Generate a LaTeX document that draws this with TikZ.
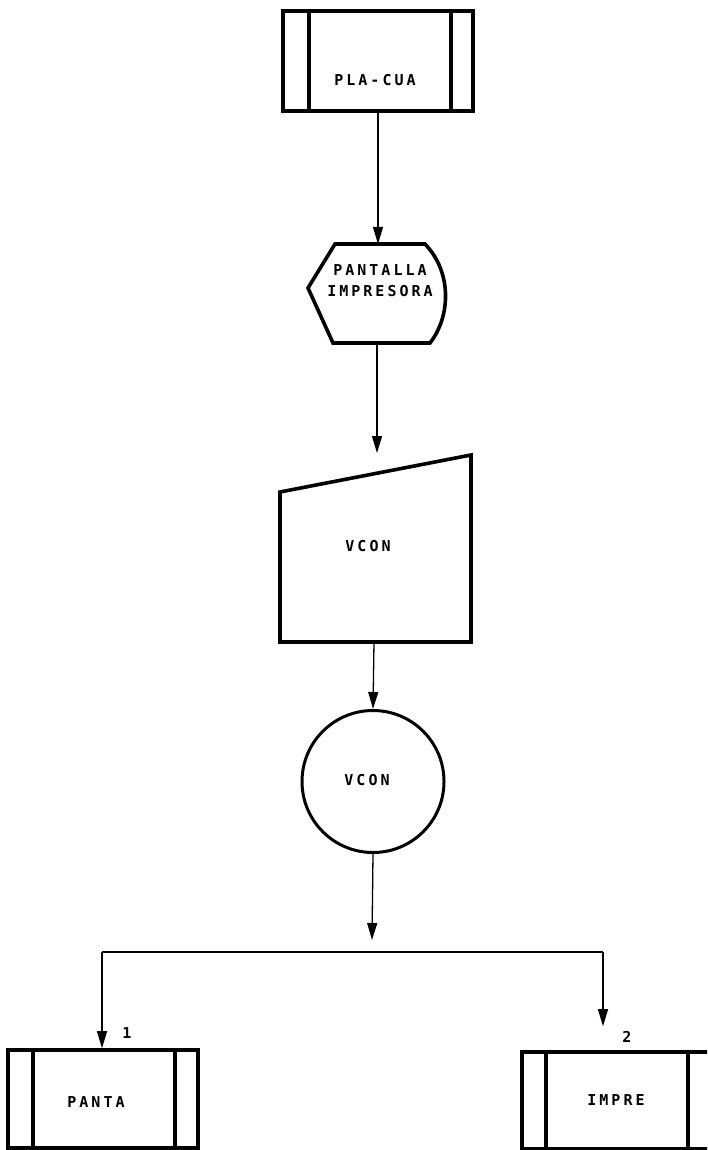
\documentclass[tikz,border=0pt]{standalone}
\usepackage{fontspec}
\newfontfamily\dotfont{DejaVu Sans Mono}[LetterSpace=20]
\usetikzlibrary{arrows.meta}
\begin{document}
\begin{tikzpicture}[x=1pt,y=-1pt,
  shapeline/.style={line width=3.6pt, line join=miter},
  box/.style={draw, shapeline, minimum width=190pt, minimum height=98pt, inner sep=0pt},
  lbl/.style={font=\dotfont\bfseries\fontsize{15}{21}\selectfont, inner sep=0pt, align=center},
  conn/.style={line width=1.3pt, -{Triangle[width=10pt,length=17pt]}},
  wire/.style={line width=1.3pt}
]
\useasboundingbox (0,0) rectangle (707,1150);
\clip (0,0) rectangle (707,1150);
% top subprocess box
\node[box, minimum height=100pt] (plc) at (378,61) {};
\draw[shapeline] ([xshift=28pt]plc.north west) -- ([xshift=28pt]plc.south west);
\draw[shapeline] ([xshift=-24pt]plc.north east) -- ([xshift=-24pt]plc.south east);
\node[lbl] (plct) at (375,80) {PLA-CUA};
% display shape
\coordinate (hexN) at (378,244);
\coordinate (hexS) at (377,343);
\draw[shapeline] (335,244) -- (425,244) .. controls (452,272) and (451,316) .. (430,343) -- (333,343) -- (308,288) -- cycle;
\node[lbl] (hext) at (380,281) {PANTALLA\\IMPRESORA};
% manual input trapezoid
\draw[shapeline] (280,492) -- (471,455) -- (471,642) -- (280,642) -- cycle;
\coordinate (trapIn) at (377,453);
\coordinate (trapS) at (374,642);
\node[lbl] (trt) at (368,546) {VCON};
% connector circle
\node[draw, circle, line width=3pt, minimum size=142pt, inner sep=0pt] (cir) at (373,781.5) {};
\node[lbl] (cirt) at (367,780) {VCON};
% connectors
\draw[conn] (plc.south) -- (hexN);
\draw[conn] (hexS) -- (trapIn);
\draw[conn] (trapS) -- (cir.north);
\coordinate (split) at (372,940);
\draw[conn] (cir.south) -- (split);
\coordinate (hl) at (102,952);
\coordinate (hr) at (603,952);
\draw[wire] (hl) -- (hr);
% bottom boxes
\node[box] (pa) at (103,1099) {};
\draw[shapeline] ([xshift=27pt]pa.north west) -- ([xshift=27pt]pa.south west);
\draw[shapeline] ([xshift=-25pt]pa.north east) -- ([xshift=-25pt]pa.south east);
\node[lbl] (pat) at (96,1102) {PANTA};
\node[box, minimum height=97pt] (im) at (617,1100.5) {};
\draw[shapeline] ([xshift=26pt]im.north west) -- ([xshift=26pt]im.south west);
\draw[shapeline] ([xshift=-26pt]im.north east) -- ([xshift=-26pt]im.south east);
\node[lbl] (imt) at (616,1100) {IMPRE};
\draw[conn] (hl) -- (hl |- pa.north);
\draw[conn, shorten >=24pt] (hr) -- (hr |- im.north);
\node[lbl] (n1) at (127,1033) {1};
\node[lbl] (n2) at (627,1037) {2};
\end{tikzpicture}
\end{document}
